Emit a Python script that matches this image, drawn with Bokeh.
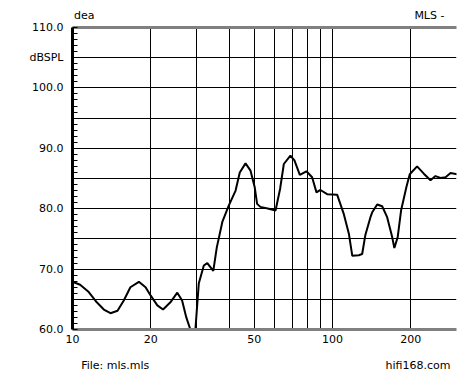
from bokeh.plotting import figure
from bokeh.models import Range1d, FixedTicker, PrintfTickFormatter, LogAxis
from bokeh.embed import file_html
from bokeh.resources import INLINE

# Frequency response (Hz, dB SPL)
freq_hz = [10.0, 10.7, 11.55, 12.4, 13.2, 14.0, 14.9, 15.75, 16.7, 18.0, 19.1, 20.0,
           21.2, 22.3, 23.8, 25.3, 26.4, 27.4, 28.4, 29.0, 29.7, 30.6, 32.0, 33.0,
           34.8, 35.9, 37.7, 39.9, 42.4, 44.0, 46.3, 48.4, 50.2, 51.3, 52.8, 56.9,
           60.4, 62.9, 65.0, 68.9, 71.4, 74.9, 79.4, 83.5, 86.8, 89.9, 95.4, 104.3,
           110.6, 115.7, 119.2, 126.3, 130.1, 133.9, 140.0, 142.2, 148.6, 155.3,
           162.3, 169.7, 173.0, 178.2, 183.6, 192.5, 198.3, 211.6, 224.6, 238.3,
           249.0, 260.3, 272.3, 284.6, 302.0]
spl_db = [67.9, 67.4, 66.2, 64.5, 63.3, 62.7, 63.1, 64.8, 67.0, 67.9, 67.0, 65.6,
          64.0, 63.3, 64.5, 66.1, 64.8, 62.0, 60.0, 56.0, 60.0, 67.6, 70.6, 71.0,
          69.7, 73.6, 77.8, 80.5, 83.0, 86.0, 87.5, 86.3, 83.6, 80.8, 80.3, 80.0,
          79.7, 83.3, 87.4, 88.8, 88.0, 85.6, 86.2, 85.2, 82.7, 83.1, 82.4, 82.3,
          79.1, 75.8, 72.2, 72.3, 72.5, 75.7, 78.6, 79.4, 80.7, 80.4,
          78.6, 75.3, 73.5, 75.3, 79.7, 83.6, 85.7, 87.0, 85.8, 84.7,
          85.4, 85.1, 85.2, 85.9, 85.7]

x_tick_values = [10, 20, 50, 100, 200]
x_tick_labels = ["10", "20", "50", "100", "200"]
x_grid_values = [20, 30, 40, 50, 60, 70, 80, 90, 100, 200]
y_tick_values = [60, 70, 80, 90, 100, 110]
y_grid_values = [65, 70, 75, 80, 85, 90, 95, 100, 105]
y_minor_values = list(range(60, 111))
y_unit_label = "dBSPL"
y_unit_pos = 105
top_texts = ["dea", "MLS -"]
top_text_pos = [11.1, 236.0]
bottom_texts = ["File: mls.mls", "hifi168.com"]
bottom_text_pos = [14.6, 213.3]

FONT = "DejaVu Sans"
FS = "11px"

p = figure(width=457, height=382, x_axis_type="log",
           x_range=Range1d(10, 300), y_range=Range1d(60, 110),
           output_backend="svg", toolbar_location=None,
           min_border_left=72, min_border_right=1,
           min_border_top=27, min_border_bottom=53)
p.outline_line_color = None
p.background_fill_color = "white"
p.border_fill_color = "white"

def style_axis(ax, standoff):
    ax.major_tick_in = 0
    ax.major_tick_out = 0
    ax.major_tick_line_color = None
    ax.major_label_standoff = standoff
    ax.major_label_text_font = FONT
    ax.major_label_text_font_size = FS
    ax.major_label_text_color = "black"
    ax.major_label_text_line_height = 1.0

# x axis (bottom) - tick labels plus footer texts on extra lines
xt = x_tick_values + bottom_text_pos
overrides = {v: l for v, l in zip(x_tick_values, x_tick_labels)}
for v, t in zip(bottom_text_pos, bottom_texts):
    overrides[v] = "\n\n" + t
xa = p.xaxis[0]
xa.ticker = FixedTicker(ticks=xt)
xa.major_label_overrides = overrides
xa.axis_line_color = "#808080"
xa.axis_line_width = 3
xa.minor_tick_line_color = None
xa.minor_tick_out = 0
style_axis(xa, 3)

# top axis used as the grey top border with header texts
top = LogAxis(ticker=FixedTicker(ticks=top_text_pos),
              major_label_overrides={v: t for v, t in zip(top_text_pos, top_texts)})
top.axis_line_color = "#808080"
top.axis_line_width = 3
top.minor_tick_line_color = None
top.minor_tick_out = 0
style_axis(top, 6)
p.add_layout(top, "above")

# y axis
ya = p.yaxis[0]
ya.ticker = FixedTicker(ticks=y_tick_values + [y_unit_pos], minor_ticks=y_minor_values)
ya.formatter = PrintfTickFormatter(format="%.1f")
ya.major_label_overrides = {y_unit_pos: y_unit_label}
ya.axis_line_color = "black"
ya.axis_line_width = 3
ya.minor_tick_in = 5
ya.minor_tick_out = 0
ya.minor_tick_line_color = "black"
style_axis(ya, 9)

# grids
p.xgrid.ticker = FixedTicker(ticks=x_grid_values)
p.xgrid.grid_line_color = "black"
p.xgrid.grid_line_width = 1
p.ygrid.ticker = FixedTicker(ticks=y_grid_values)
p.ygrid.grid_line_color = "black"
p.ygrid.grid_line_width = 1

p.line(freq_hz, spl_db, line_color="black", line_width=2)

open("out.html", "w").write(file_html(p, INLINE))
